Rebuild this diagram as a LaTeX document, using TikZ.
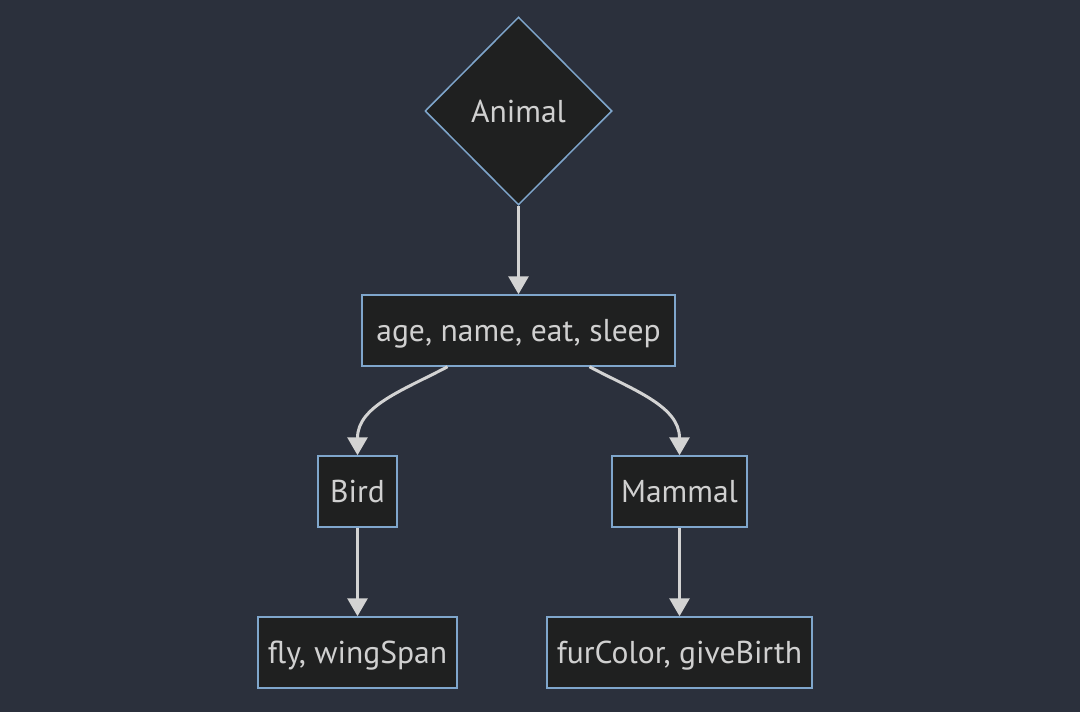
\documentclass[tikz,border=0pt]{standalone}
\usepackage{fontspec}
\setmainfont{PT Sans}
\usepackage{tikz}
\usetikzlibrary{arrows.meta,positioning,shapes.geometric}

\definecolor{bgcol}{HTML}{2B303C}
\definecolor{nodefill}{HTML}{1F2020}
\definecolor{nodeline}{HTML}{7FA6CC}
\definecolor{textcol}{HTML}{D0D0D0}
\definecolor{linecol}{HTML}{D3D3D3}

\tikzset{
  classbox/.style={draw=nodeline, fill=nodefill, line width=1.5pt, text=textcol,
    font=\fontsize{31.6}{36}\selectfont, minimum height=71pt, inner sep=0pt, text depth=0pt},
  decision/.style={diamond, aspect=1, draw=nodeline, fill=nodefill, line width=1.5pt,
    text=textcol, font=\fontsize{31.6}{36}\selectfont, minimum width=187pt, minimum height=188pt, inner sep=0pt},
  link/.style={draw=linecol, line width=3pt, -{Triangle[length=18pt,width=20pt]}}
}

\begin{document}
\begin{tikzpicture}[x=1pt,y=-1pt]

% Background and size
\fill[bgcol] (0,0) rectangle (1080,712);
\useasboundingbox (0,0) rectangle (1080,712);

% Top decision node
\node[decision] (animal) at (518.5,111) {Animal};

% Shared members
\node[classbox, minimum width=313pt] (common) at (518.5,330.5) {age, name, eat, sleep};

% Subclasses
\node[classbox, minimum width=79pt] (bird) at (357.5,491.5) {Bird};
\node[classbox, minimum width=135pt] (mammal) at (679.5,491.5) {Mammal};

% Subclass members
\node[classbox, minimum width=199pt] (birdattr) at (357.5,652.5) {fly, wingSpan};
\node[classbox, minimum width=265pt] (mammalattr) at (679.5,652.5) {furColor, giveBirth};

% Connectors
\draw[link] (animal.south) -- (common.north);
\draw[link] ([xshift=-71pt]common.south) to[out=-152,in=90] (bird.north);
\draw[link] ([xshift=71pt]common.south) to[out=-28,in=90] (mammal.north);
\draw[link] (bird.south) -- (birdattr.north);
\draw[link] (mammal.south) -- (mammalattr.north);

\end{tikzpicture}
\end{document}
